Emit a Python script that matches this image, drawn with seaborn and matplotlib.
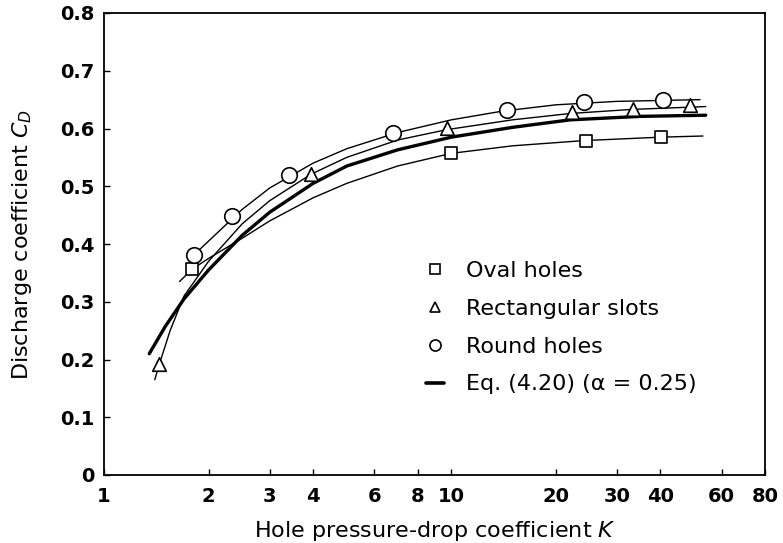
import matplotlib
matplotlib.use("Agg")
import matplotlib.pyplot as plt
from matplotlib.lines import Line2D
from matplotlib.ticker import NullLocator
import seaborn as sns

# ---------------- data ----------------
series_names = ["Oval holes", "Rectangular slots", "Round holes", "Eq. (4.20) (\u03b1 = 0.25)"]

tick_k = [1, 2, 3, 4, 6, 8, 10, 20, 30, 40, 60, 80]
tick_k_labels = ["1", "2", "3", "4", "6", "8", "10", "20", "30", "40", "60", "80"]
tick_cd = [0.0, 0.1, 0.2, 0.3, 0.4, 0.5, 0.6, 0.7, 0.8]
tick_cd_labels = ["0", "0.1", "0.2", "0.3", "0.4", "0.5", "0.6", "0.7", "0.8"]

# measured points
oval_k = [1.79, 10.0, 24.4, 40.1]
oval_cd = [0.356, 0.558, 0.579, 0.585]
slots_k = [1.44, 3.95, 9.7, 22.3, 33.3, 48.5]
slots_cd = [0.193, 0.521, 0.601, 0.629, 0.633, 0.641]
round_k = [1.82, 2.33, 3.4, 6.8, 14.5, 24.1, 40.6]
round_cd = [0.381, 0.448, 0.519, 0.592, 0.632, 0.646, 0.650]

# curves
oval_fit_k = [1.65, 1.79, 2.0, 2.5, 3.0, 4.0, 5.0, 7.0, 10, 15, 24, 40, 53]
oval_fit_cd = [0.335, 0.356, 0.375, 0.41, 0.44, 0.48, 0.505, 0.535, 0.557, 0.570, 0.579, 0.585, 0.587]
slots_fit_k = [1.40, 1.44, 1.55, 1.7, 2.0, 2.5, 3.0, 3.95, 5, 7, 9.7, 15, 22, 33, 54]
slots_fit_cd = [0.165, 0.19, 0.25, 0.31, 0.37, 0.435, 0.475, 0.521, 0.55, 0.58, 0.598, 0.615, 0.626, 0.633, 0.638]
round_fit_k = [1.75, 2.0, 2.5, 3.0, 4.0, 5.0, 7.0, 10, 14, 20, 30, 52]
round_fit_cd = [0.372, 0.405, 0.46, 0.497, 0.54, 0.565, 0.593, 0.615, 0.630, 0.641, 0.647, 0.650]
eq_k = [1.35, 1.5, 1.7, 2.0, 2.5, 3.0, 4.0, 5.0, 7.0, 10, 15, 22, 35, 54]
eq_cd = [0.21, 0.257, 0.305, 0.355, 0.415, 0.455, 0.505, 0.535, 0.563, 0.585, 0.602, 0.615, 0.621, 0.623]

# ---------------- style ----------------
sns.set_theme(style="white")
plt.rcParams["font.family"] = ["DejaVu Sans"]
plt.rcParams["mathtext.fontset"] = "dejavusans"
plt.rcParams["axes.edgecolor"] = "black"
plt.rcParams["axes.linewidth"] = 1.3
plt.rcParams["text.color"] = "black"
plt.rcParams["axes.labelcolor"] = "black"
plt.rcParams["xtick.color"] = "black"
plt.rcParams["ytick.color"] = "black"

fig = plt.figure(figsize=(7.83, 5.43), dpi=100)
ax = fig.add_axes([104 / 783, 1 - 475 / 543, 661 / 783, 462 / 543])

thin = 1.0
for xk, yc in [(oval_fit_k, oval_fit_cd), (slots_fit_k, slots_fit_cd), (round_fit_k, round_fit_cd)]:
    sns.lineplot(x=xk, y=yc, ax=ax, color="black", linewidth=thin,
                 estimator=None, sort=False, zorder=2)
sns.lineplot(x=eq_k, y=eq_cd, ax=ax, color="black", linewidth=2.4,
             estimator=None, sort=False, zorder=2)

mk = dict(ax=ax, color="white", edgecolor="black", linewidth=1.2, zorder=4, legend=False)
sns.scatterplot(x=oval_k, y=oval_cd, marker="s", s=70, **mk)
sns.scatterplot(x=slots_k, y=slots_cd, marker="^", s=95, **mk)
sns.scatterplot(x=round_k, y=round_cd, marker="o", s=125, **mk)

ax.set_xscale("log")
ax.set_xlim(1, 80)
ax.set_ylim(0, 0.8)
ax.set_xticks(tick_k)
ax.set_xticklabels(tick_k_labels)
ax.xaxis.set_minor_locator(NullLocator())
ax.set_yticks(tick_cd)
ax.set_yticklabels(tick_cd_labels)

ax.tick_params(axis="x", direction="in", length=4, width=1, colors="black",
               labelsize=14, pad=9, bottom=True, top=False)
ax.tick_params(axis="y", direction="in", length=4, width=1, colors="black",
               labelsize=14, pad=7, left=True, right=False)
for lab in ax.get_xticklabels() + ax.get_yticklabels():
    lab.set_fontweight("bold")

ax.set_xlabel("Hole pressure-drop coefficient $K$", fontsize=16, color="black")
ax.set_ylabel("Discharge coefficient $C_D$", fontsize=16, color="black")
ax.xaxis.set_label_coords(0.5, -0.095)
ax.yaxis.set_label_coords(-0.106, 0.5)

for sp in ax.spines.values():
    sp.set_color("black")
    sp.set_linewidth(1.3)

handles = [
    Line2D([], [], ls="none", marker="s", ms=7.5, mfc="white", mec="black", mew=1.2),
    Line2D([], [], ls="none", marker="^", ms=7, mfc="white", mec="black", mew=1.2),
    Line2D([], [], ls="none", marker="o", ms=8, mfc="white", mec="black", mew=1.2),
    Line2D([], [], color="black", lw=2.6),
]
leg = ax.legend(handles, series_names, loc="upper left", bbox_to_anchor=(0.487, 0.463),
                frameon=False, fontsize=16, handlelength=0.8, handletextpad=1.0,
                labelspacing=0.80, borderpad=0, borderaxespad=0)
for t in leg.get_texts():
    t.set_color("black")

fig.savefig("out.png", dpi=100)
